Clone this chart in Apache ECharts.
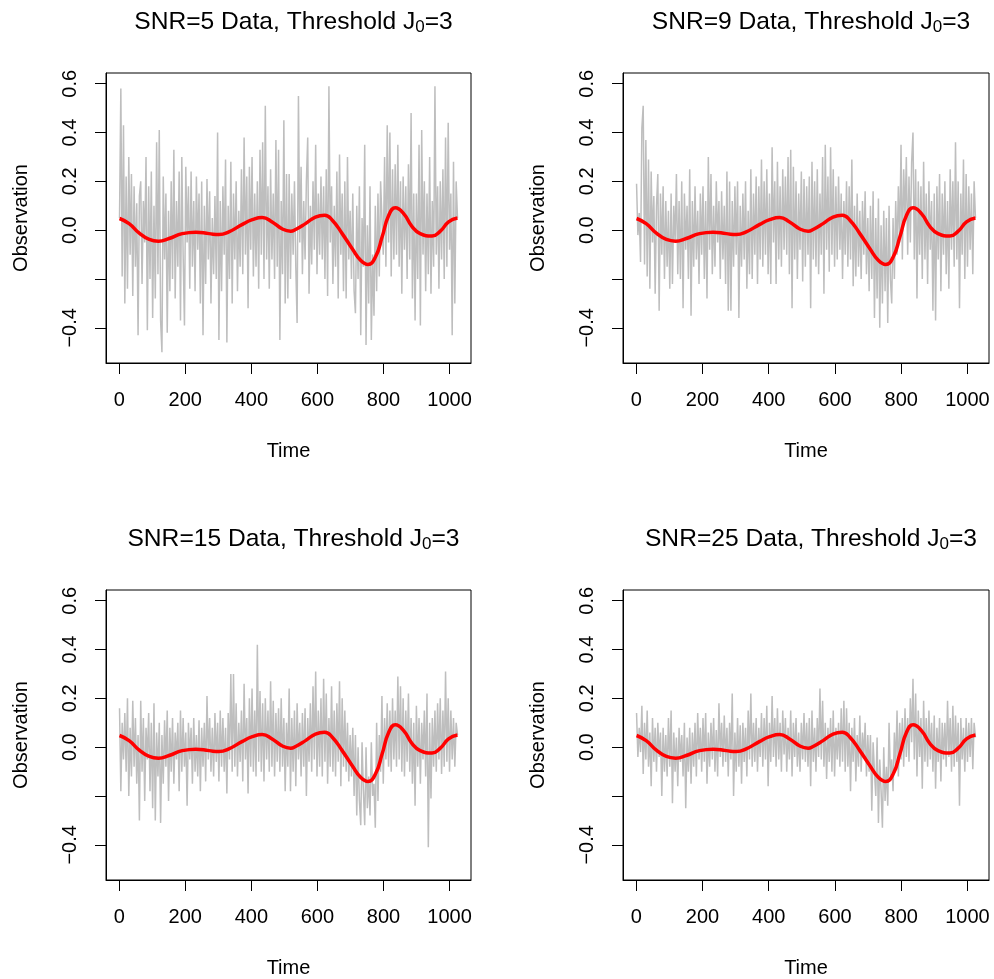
<!DOCTYPE html>
<html>
<head>
<meta charset="utf-8">
<script src="https://cdn.jsdelivr.net/npm/echarts@6/dist/echarts.min.js"></script>
<style>
html,body{margin:0;padding:0;background:#fff;}
#main{width:994px;height:979px;}
</style>
</head>
<body>
<div id="main"></div>
<script>
var snrLabels = ['5', '9', '15', '25'];
var xTicks = [0, 200, 400, 600, 800, 1000];
var yTicks = [-0.4, -0.2, 0, 0.2, 0.4, 0.6];
var yLabelTicks = [-0.4, 0, 0.2, 0.4, 0.6]; // -0.2 is dropped in the original (overlap)

// smooth fitted curve (same in every panel)
var fitTime = [1, 30, 60, 91, 119, 151, 191, 232, 272, 302, 332, 373, 403, 433, 463, 494, 519, 534, 564, 594,
  622, 645, 675, 705, 730, 753, 776, 796, 816, 836, 861, 886, 911, 947, 972, 997, 1024];
var fitValue = [0.048, 0.027, -0.011, -0.038, -0.045, -0.034, -0.014, -0.008, -0.014, -0.018, -0.007, 0.024, 0.043,
  0.052, 0.034, 0.005, -0.004, 0.003, 0.027, 0.054, 0.061, 0.041, -0.014, -0.075, -0.122, -0.140, -0.109, -0.027,
  0.061, 0.092, 0.068, 0.016, -0.014, -0.024, -0.004, 0.034, 0.050];

var obsSnr5 = [
  0.05,0.58,-0.19,0.43,-0.30,0.22,-0.24,0.30,-0.10,0.23,-0.27,0.18,-0.15,0.11,-0.43,0.14,
  0.20,-0.22,0.12,-0.05,0.30,-0.41,0.18,-0.20,0.24,-0.36,0.10,-0.28,0.36,-0.18,0.41,-0.37,
  -0.50,0.22,-0.12,0.15,-0.42,0.08,-0.25,0.20,-0.20,0.33,-0.28,0.12,-0.15,0.24,-0.37,0.30,
  -0.10,-0.39,0.26,-0.05,0.18,-0.24,0.24,-0.15,0.12,-0.25,0.22,-0.08,0.15,-0.30,0.20,-0.43,
  0.10,-0.22,0.21,-0.12,0.16,-0.30,0.05,-0.18,0.14,-0.20,0.40,-0.45,0.12,-0.25,0.18,-0.10,
  0.29,-0.46,0.10,-0.20,0.28,-0.30,0.15,-0.12,0.20,-0.25,0.08,-0.15,0.25,-0.18,0.38,-0.10,
  0.22,-0.32,0.26,-0.08,0.30,-0.19,0.15,-0.15,0.20,-0.24,0.33,-0.10,0.36,-0.20,0.51,-0.12,
  0.18,-0.24,0.25,-0.12,0.15,-0.20,0.37,-0.15,0.33,-0.45,0.12,-0.18,0.45,-0.30,0.23,-0.28,
  0.23,-0.20,0.15,-0.10,0.20,-0.15,-0.38,0.55,-0.05,0.26,-0.18,0.12,-0.12,0.20,0.38,-0.26,
  0.10,-0.14,0.20,-0.08,0.35,-0.18,0.15,-0.10,0.22,-0.12,0.18,-0.20,0.25,-0.27,0.59,-0.05,
  0.18,-0.22,0.10,-0.15,0.24,-0.28,0.31,-0.10,0.15,-0.25,0.20,-0.28,0.30,-0.12,0.08,-0.20,
  0.15,-0.25,-0.34,0.10,-0.20,0.18,-0.43,0.05,-0.15,0.35,-0.47,0.02,-0.30,0.18,-0.45,-0.10,
  -0.35,0.10,-0.25,0.15,-0.19,0.20,0.05,-0.10,0.30,-0.15,0.43,-0.05,0.40,-0.19,0.25,-0.12,
  0.27,-0.10,0.35,-0.15,0.20,-0.26,0.22,-0.08,0.18,-0.20,0.27,-0.12,0.48,-0.28,0.15,-0.37,
  0.15,-0.20,0.35,-0.39,0.41,-0.10,0.20,-0.25,0.15,-0.18,0.30,-0.26,0.12,-0.15,0.59,-0.10,
  0.18,-0.24,0.20,-0.12,0.25,-0.20,0.38,-0.15,0.44,-0.08,0.15,-0.43,0.28,-0.30,0.20,0.05
];
var obsSnr9 = [
  0.19,-0.02,0.07,-0.13,0.42,0.51,-0.14,0.37,-0.19,0.29,-0.24,0.24,-0.05,0.14,-0.26,0.10,
  0.23,-0.33,0.15,-0.10,0.18,-0.20,0.12,-0.15,0.08,-0.24,0.15,-0.22,0.10,-0.05,0.23,-0.18,
  0.12,-0.20,0.20,-0.32,0.15,-0.08,0.10,-0.20,0.25,-0.35,0.12,-0.15,0.18,-0.12,0.08,-0.22,
  0.15,-0.10,0.18,-0.20,0.12,-0.28,0.30,-0.08,0.23,-0.18,0.10,-0.15,0.20,-0.05,0.12,-0.20,
  0.16,-0.12,0.10,-0.22,0.24,-0.33,0.20,-0.33,0.12,-0.15,0.18,-0.10,0.20,-0.36,0.10,-0.15,
  0.15,-0.12,0.20,-0.24,0.08,-0.18,0.25,-0.20,0.15,-0.10,0.22,-0.22,0.18,-0.12,0.29,-0.15,
  0.20,-0.10,0.25,-0.18,0.15,-0.22,0.34,-0.05,0.20,-0.22,0.28,-0.12,0.18,-0.15,0.25,-0.08,
  0.22,-0.10,0.30,-0.18,0.33,-0.32,0.26,-0.12,0.20,-0.20,0.15,-0.08,0.24,-0.21,0.21,-0.15,
  0.18,-0.10,0.22,-0.32,0.28,-0.12,0.20,-0.15,0.25,-0.18,0.15,-0.10,0.30,-0.26,0.35,-0.08,
  0.22,-0.17,0.34,-0.10,0.25,-0.15,0.18,-0.12,0.22,-0.08,0.15,-0.20,0.12,-0.10,0.20,-0.15,
  0.18,-0.12,0.29,-0.23,0.10,-0.19,0.15,-0.15,0.08,-0.20,0.12,-0.10,0.16,-0.18,0.05,-0.25,
  0.10,-0.20,0.16,-0.36,0.05,-0.28,0.13,-0.40,0.02,-0.30,0.08,-0.25,0.05,-0.38,0.10,-0.20,
  -0.30,0.05,-0.20,0.12,-0.10,0.18,-0.05,0.35,-0.12,0.25,0.05,0.30,-0.10,0.22,-0.05,0.28,
  0.40,-0.12,0.25,-0.28,0.20,-0.10,0.18,-0.20,0.28,-0.12,0.15,-0.22,0.20,-0.08,0.12,-0.33,
  0.15,-0.37,0.18,-0.12,0.23,-0.25,0.15,-0.10,0.20,-0.18,0.12,-0.24,0.25,-0.08,0.20,-0.15,
  0.36,-0.12,0.20,-0.32,0.15,-0.10,0.29,-0.20,0.23,-0.15,0.18,-0.08,0.15,-0.18,0.20,0.05
];
var obsSnr15 = [
  0.16,-0.18,0.10,-0.05,0.14,-0.10,0.20,-0.20,0.08,-0.12,0.19,-0.08,0.12,-0.15,0.05,-0.30,
  0.19,-0.10,0.12,-0.22,0.08,-0.05,0.14,-0.18,0.10,-0.25,0.18,-0.30,0.06,-0.12,0.10,-0.31,
  0.05,-0.15,0.11,-0.08,0.15,-0.22,0.08,-0.10,0.12,-0.15,0.06,-0.05,0.10,-0.18,0.15,-0.10,
  0.12,-0.08,0.06,-0.24,0.10,-0.05,0.08,-0.15,0.12,-0.10,0.05,-0.12,0.11,-0.18,0.08,-0.08,
  0.10,-0.14,0.21,-0.05,0.12,-0.10,0.08,-0.12,0.14,-0.06,0.10,-0.14,0.15,-0.08,0.12,-0.10,
  0.08,-0.19,0.14,-0.05,0.30,-0.10,0.30,-0.08,0.18,-0.12,0.10,-0.06,0.15,-0.14,0.26,-0.05,
  0.12,-0.19,0.20,-0.08,0.24,-0.10,0.15,-0.12,0.42,-0.06,0.23,-0.10,0.18,-0.14,0.20,-0.05,
  0.15,-0.10,0.27,-0.08,0.19,-0.12,0.14,-0.06,0.16,-0.10,0.20,-0.08,0.12,-0.18,0.10,-0.08,
  0.24,-0.18,0.12,-0.10,0.15,-0.16,0.18,-0.05,0.10,-0.12,0.14,-0.08,0.16,-0.20,0.12,-0.06,
  0.18,-0.10,0.25,-0.05,0.31,-0.12,0.15,-0.08,0.20,-0.12,0.28,-0.06,0.22,-0.15,0.12,-0.08,
  0.25,-0.10,0.15,-0.12,0.18,-0.06,0.27,-0.16,0.20,-0.08,0.15,-0.10,0.10,-0.14,0.05,-0.12,
  0.08,-0.20,0.05,-0.28,0.00,-0.22,-0.32,0.02,-0.18,-0.32,0.00,-0.25,-0.12,-0.28,0.02,-0.20,
  -0.15,-0.33,0.10,-0.22,0.05,-0.10,0.21,-0.15,0.12,-0.05,0.18,-0.08,0.15,-0.10,0.20,-0.05,
  0.15,-0.08,0.29,-0.05,0.25,-0.10,0.20,-0.12,0.15,-0.06,0.22,-0.10,0.12,-0.15,0.10,-0.24,
  0.17,-0.08,0.12,-0.15,0.10,-0.05,0.15,-0.12,0.22,-0.41,0.10,-0.21,0.12,-0.08,0.15,-0.10,
  0.18,-0.05,0.20,-0.11,0.15,-0.08,0.31,-0.06,0.20,-0.10,0.15,-0.05,0.12,-0.08,0.10,0.05
];
var obsSnr25 = [
  0.14,-0.04,0.08,-0.02,0.17,-0.11,0.10,-0.05,0.15,-0.08,0.06,-0.16,0.12,-0.06,0.08,-0.10,
  0.10,-0.04,0.06,-0.20,0.08,-0.10,0.05,-0.12,0.12,-0.08,0.15,-0.23,0.06,-0.10,0.04,-0.16,
  0.08,-0.06,0.05,-0.12,0.10,-0.25,0.04,-0.10,0.08,-0.15,0.06,-0.08,0.10,-0.12,0.14,-0.05,
  0.08,-0.10,0.12,-0.06,0.14,-0.15,0.06,-0.08,0.10,-0.05,0.12,-0.10,0.07,-0.12,0.18,-0.04,
  0.10,-0.08,0.13,-0.06,0.08,-0.12,0.10,-0.05,0.22,-0.20,0.06,-0.10,0.12,-0.08,0.09,-0.15,
  0.10,-0.06,0.08,-0.12,0.15,-0.05,0.22,-0.08,0.10,-0.06,0.12,-0.10,0.08,-0.04,0.14,-0.08,
  0.12,-0.05,0.17,-0.16,0.10,-0.06,0.21,-0.04,0.12,-0.08,0.16,-0.05,0.10,-0.10,0.15,-0.03,
  0.12,-0.10,0.08,-0.05,0.15,-0.12,0.10,-0.04,0.12,-0.08,0.06,-0.10,0.10,-0.05,0.14,-0.06,
  0.10,-0.08,0.12,-0.16,0.15,-0.06,0.08,-0.10,0.12,-0.04,0.24,-0.05,0.19,-0.08,0.10,-0.13,
  0.08,-0.06,0.12,-0.10,0.15,-0.12,0.08,-0.05,0.10,-0.08,0.16,-0.06,0.19,-0.10,0.16,-0.08,
  0.10,-0.18,0.08,-0.06,0.12,-0.14,0.05,-0.08,0.13,-0.10,0.06,-0.04,0.10,-0.12,0.05,-0.10,
  0.05,-0.26,0.02,-0.10,-0.20,0.04,-0.31,-0.05,-0.18,-0.33,0.00,-0.22,-0.08,-0.24,0.10,-0.12,
  -0.05,-0.18,0.06,-0.08,0.15,-0.12,0.10,-0.05,0.12,-0.08,0.16,-0.04,0.12,-0.06,0.20,0.02,
  0.28,-0.05,0.22,-0.12,0.15,-0.04,0.12,-0.17,0.19,-0.06,0.12,-0.08,0.15,-0.05,0.10,-0.10,
  0.13,-0.17,0.08,-0.06,0.12,-0.14,0.10,-0.05,0.10,-0.08,0.19,-0.04,0.12,-0.10,0.17,-0.08,
  0.13,-0.06,0.10,-0.24,0.12,-0.05,0.08,-0.10,0.12,-0.06,0.10,-0.04,0.12,-0.09,0.10,0.04
];
var observations = [obsSnr5, obsSnr9, obsSnr15, obsSnr25];

var FONT = 'Liberation Sans, Arial, Helvetica, sans-serif';
var panels = [
  {left: 106, top: 73, width: 365, height: 290},
  {left: 623, top: 73, width: 366, height: 290},
  {left: 106, top: 590, width: 365, height: 292},
  {left: 623, top: 590, width: 366, height: 292}
];

function toPairs(values){
  var res = [];
  var step = 1023 / (values.length - 1);
  for(var i=0;i<values.length;i++){
    res.push([1 + i*step, values[i]]);
  }
  return res;
}

function yLabel(v){
  var s = Math.abs(v).toFixed(1);
  return v < 0 ? '\u2212' + s : s;
}

function xLabel(v){
  return String(v);
}

var chart = echarts.init(document.getElementById('main'), null, {renderer: 'canvas'});
var option = {
  animation: false,
  backgroundColor: '#fff',
  title: [], grid: [], xAxis: [], yAxis: [], series: []
};

var fitPairs = [];
for(var k=0;k<fitTime.length;k++){
  fitPairs.push([fitTime[k], fitValue[k]]);
}

for(var i=0;i<4;i++){
  var p = panels[i];
  option.title.push({
    text: '{a|SNR=' + snrLabels[i] + ' Data, Threshold J}{b|0}{a|=3}',
    left: p.left + p.width/2,
    top: p.top - 70,
    textAlign: 'center',
    textStyle: {
      fontWeight: 'normal',
      rich: {
        a: {fontSize: 24.6, fontFamily: FONT, fontWeight: 'normal', color: '#000', lineHeight: 28, verticalAlign: 'middle'},
        b: {fontSize: 17, fontFamily: FONT, fontWeight: 'normal', color: '#000', lineHeight: 17, verticalAlign: 'bottom'}
      }
    }
  });
  option.grid.push({
    left: p.left, top: p.top, width: p.width, height: p.height,
    show: true, borderColor: '#000', borderWidth: 1, backgroundColor: 'transparent'
  });
  option.xAxis.push({
    type: 'value', gridIndex: i,
    min: -39.92, max: 1064.92,
    name: 'Time', nameLocation: 'middle', nameGap: 78,
    nameTextStyle: {fontSize: 20, fontFamily: FONT, color: '#000'},
    axisLine: {show: true, onZero: false, lineStyle: {color: '#000', width: 1}},
    axisTick: {show: true, length: 11, inside: false, customValues: xTicks, lineStyle: {color: '#000', width: 1}},
    axisLabel: {customValues: xTicks, fontSize: 20, fontFamily: FONT, color: '#000', margin: 27, formatter: xLabel},
    splitLine: {show: false}
  });
  option.yAxis.push({
    type: 'value', gridIndex: i,
    min: -0.544, max: 0.644,
    name: 'Observation', nameLocation: 'middle', nameGap: 75,
    nameTextStyle: {fontSize: 20, fontFamily: FONT, color: '#000'},
    axisLine: {show: true, onZero: false, lineStyle: {color: '#000', width: 1}},
    axisTick: {show: true, length: 11, inside: false, customValues: yTicks, lineStyle: {color: '#000', width: 1}},
    axisLabel: {customValues: yLabelTicks, rotate: 90, fontSize: 20, fontFamily: FONT, color: '#000', margin: 26, formatter: yLabel},
    splitLine: {show: false}
  });
  option.series.push({
    type: 'line', xAxisIndex: i, yAxisIndex: i,
    data: toPairs(observations[i]),
    symbol: 'none', silent: true,
    lineStyle: {color: '#BEBEBE', width: 1.5},
    z: 2
  });
  option.series.push({
    type: 'line', xAxisIndex: i, yAxisIndex: i,
    data: fitPairs,
    smooth: 0.5, symbol: 'none', silent: true,
    lineStyle: {color: '#FF0000', width: 3.5},
    z: 3
  });
}

chart.setOption(option);
</script>
</body>
</html>
